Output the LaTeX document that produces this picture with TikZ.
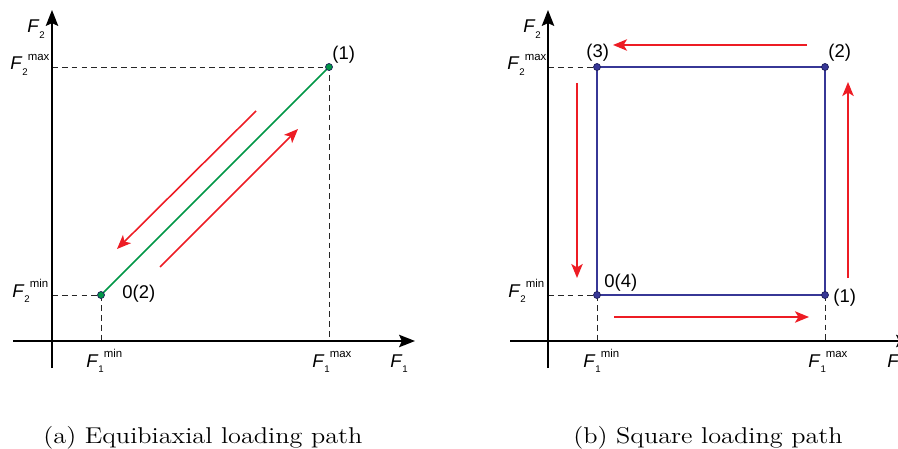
\documentclass[tikz,border=0pt]{standalone}
\usepackage{fontspec}
\usepackage{tikz}
\usetikzlibrary{arrows.meta,positioning,calc}
\newfontfamily\arialfont{Liberation Sans}
\definecolor{pathgreen}{RGB}{0,150,70}
\definecolor{pathblue}{RGB}{55,55,150}
\definecolor{dirred}{RGB}{237,28,36}
\definecolor{dotdark}{RGB}{30,30,90}
\newcommand{\subnum}[1]{\raisebox{-0.6ex}{\fontsize{5.5}{6}\selectfont #1}}
\newcommand{\supword}[1]{\raisebox{1.0ex}{\fontsize{6.5}{7}\selectfont #1}}

\begin{document}
\begin{tikzpicture}[x=0.02cm, y=-0.02cm]
\tikzstyle{axisline} = [line width=1.2pt, -{Stealth[length=9pt,width=7pt,inset=1.5pt]}]
\tikzstyle{guide} = [black!85, dash pattern=on 3.3pt off 2.3pt, line width=0.5pt]
\tikzstyle{flow} = [dirred, line width=0.9pt, -{Stealth[length=8pt,width=6.5pt,inset=2pt]}]
\tikzstyle{lab} = [inner sep=0, anchor=base west, font=\arialfont\fontsize{10.5}{12}\selectfont]
\tikzstyle{subcap} = [inner sep=0, anchor=base, xscale=1.15, font=\fontsize{13}{15}\selectfont]
\tikzstyle{vtx} = [circle, inner sep=0, minimum size=0.14cm, draw=dotdark, line width=0.4pt]

\useasboundingbox (0,0) rectangle (898,449);

% (a) equibiaxial
\coordinate (oa) at (52,341);
\coordinate (ybota) at (52,368);
\coordinate (ytopa) at (52,10);
\coordinate (xlefta) at (13,341);
\coordinate (xrighta) at (415,341);
\coordinate (p0) at (101,295);
\coordinate (p1) at (329,67);

\draw[guide] (oa |- p1) -- (p1) -- (p1 |- oa);
\draw[guide] (oa |- p0) -- (p0) -- (p0 |- oa);
\draw[axisline] (ybota) -- (ytopa);
\draw[axisline] (xlefta) -- (xrighta);
\draw[pathgreen, line width=0.9pt] (p0) -- (p1);

\coordinate (ra1) at (256,111);
\coordinate (ra2) at (117,249);
\coordinate (ra3) at (160,267);
\coordinate (ra4) at (298,129);
\draw[flow] (ra1) -- (ra2);
\draw[flow] (ra3) -- (ra4);

\node[vtx, fill=pathgreen] (da0) at (p0) {};
\node[vtx, fill=pathgreen] (da1) at (p1) {};

\node[lab] (f2a) at (27,33) {\textit{F}\subnum{2}};
\node[lab] (f2maxa) at (10,70) {\textit{F}\subnum{2}\supword{max}};
\node[lab] (f2mina) at (12,297) {\textit{F}\subnum{2}\supword{min}};
\node[lab] (f1mina) at (86,367) {\textit{F}\subnum{1}\supword{min}};
\node[lab] (f1maxa) at (312,367) {\textit{F}\subnum{1}\supword{max}};
\node[lab] (f1a) at (390,367) {\textit{F}\subnum{1}};
\node[lab] (la1) at (332,60) {(1)};
\node[lab] (la0) at (122,298) {0(2)};

\node[subcap] (capa) at (203,443) {(a) Equibiaxial loading path};

% (b) square
\coordinate (ob) at (548,341);
\coordinate (ybotb) at (548,368);
\coordinate (ytopb) at (548,10);
\coordinate (xleftb) at (510,341);
\coordinate (xrightb) at (912,341);
\coordinate (q0) at (597,295);
\coordinate (q1) at (825,295);
\coordinate (q2) at (825,67);
\coordinate (q3) at (597,67);

\draw[guide] (ob |- q3) -- (q3);
\draw[guide] (ob |- q0) -- (q0) -- (q0 |- ob);
\draw[guide] (q1) -- (q1 |- ob);
\draw[axisline] (ybotb) -- (ytopb);
\draw[axisline] (xleftb) -- (xrightb);
\draw[pathblue, line width=0.9pt] (q0) -- (q1) -- (q2) -- (q3) -- cycle;

\coordinate (rb1) at (807,45);
\coordinate (rb2) at (613,45);
\coordinate (rb3) at (577,83);
\coordinate (rb4) at (577,278);
\coordinate (rb5) at (848,278);
\coordinate (rb6) at (848,82);
\coordinate (rb7) at (614,317);
\coordinate (rb8) at (809,317);
\draw[flow] (rb1) -- (rb2);
\draw[flow] (rb3) -- (rb4);
\draw[flow] (rb5) -- (rb6);
\draw[flow] (rb7) -- (rb8);

\foreach \c in {0,...,3}
  \node[vtx, fill=pathblue] (db\c) at (q\c) {};

\node[lab] (f2b) at (523,33) {\textit{F}\subnum{2}};
\node[lab] (f2maxb) at (507,70) {\textit{F}\subnum{2}\supword{max}};
\node[lab] (f2minb) at (508,297) {\textit{F}\subnum{2}\supword{min}};
\node[lab] (f1minb) at (583,367) {\textit{F}\subnum{1}\supword{min}};
\node[lab] (f1maxb) at (808,367) {\textit{F}\subnum{1}\supword{max}};
\node[lab] (f1b) at (887,367) {\textit{F}\subnum{1}};
\node[lab] (lb3) at (586,58) {(3)};
\node[lab] (lb2) at (828,58) {(2)};
\node[lab] (lb0) at (604,287) {0(4)};
\node[lab] (lb1) at (833,302) {(1)};

\node[subcap] (capb) at (708,443) {(b) Square loading path};
\end{tikzpicture}
\end{document}
